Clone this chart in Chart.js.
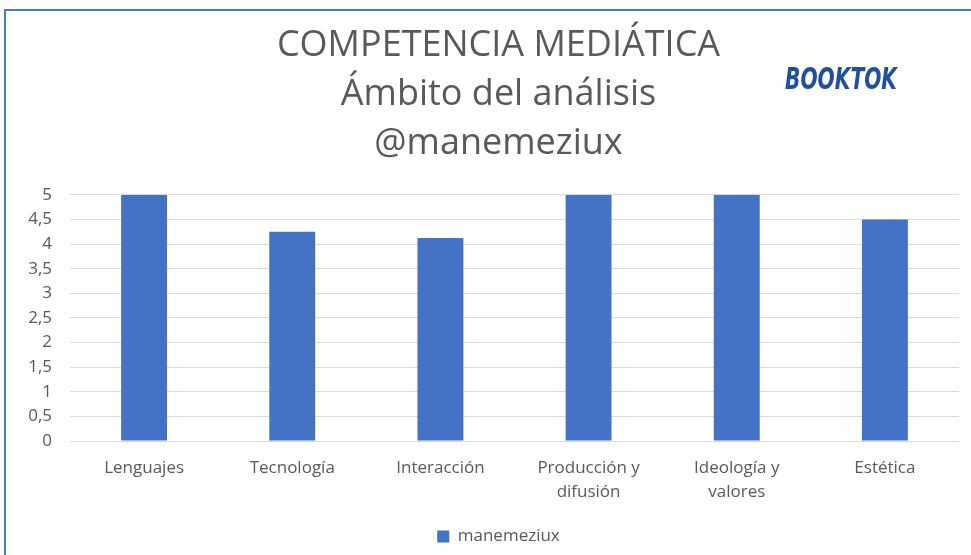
<!DOCTYPE html>
<html><head><meta charset="utf-8">
<script src="https://cdn.jsdelivr.net/npm/chart.js@4/dist/chart.umd.min.js"></script>
<style>html,body{margin:0;padding:0;background:#fff;}#wrap{width:971px;height:555px;position:relative;}</style>
</head><body><div id="wrap"><canvas id="c" width="971" height="555"></canvas></div>
<script>
const categories = [['Lenguajes'], ['Tecnología'], ['Interacción'], ['Producción y', 'difusión'], ['Ideología y', 'valores'], ['Estética']];
const seriesName = 'manemeziux';
const values = [5, 4.25, 4.125, 5, 5, 4.5];
const titleLines = ['COMPETENCIA MEDIÁTICA', 'Ámbito del análisis', '@manemeziux'];
const yMin = 0, yMax = 5, yStep = 0.5;
const logoText = 'BOOKTOK';

const frame = {
  id: 'frame',
  beforeDraw(chart) {
    const ys = chart.scales.y;
    if (ys) ys._computeLabelArea = () => undefined;
    const ctx = chart.ctx;
    ctx.save();
    ctx.fillStyle = '#fff';
    ctx.fillRect(0, 0, chart.width, chart.height);
    ctx.strokeStyle = '#4a7ec2';
    ctx.lineWidth = 2;
    ctx.beginPath();
    ctx.moveTo(5, chart.height + 5);
    ctx.lineTo(5, 10);
    ctx.lineTo(chart.width + 5, 10);
    ctx.stroke();
    ctx.restore();
  },
  afterDraw(chart) {
    const ctx = chart.ctx;
    ctx.save();
    ctx.font = 'italic bold 30px "Liberation Sans Narrow", "DejaVu Sans Condensed", sans-serif';
    const w = ctx.measureText(logoText).width;
    ctx.translate(785, 89);
    ctx.scale(112 / w, 1);
    ctx.fillStyle = '#1f4f9f';
    ctx.textBaseline = 'alphabetic';
    ctx.fillText(logoText, 0, 0);
    ctx.restore();
  }
};

new Chart(document.getElementById('c'), {
  type: 'bar',
  data: {
    labels: categories,
    datasets: [{
      label: seriesName,
      data: values,
      backgroundColor: '#4472c4',
      borderWidth: 0,
      barPercentage: 0.31,
      categoryPercentage: 1
    }]
  },
  options: {
    responsive: false,
    animation: false,
    devicePixelRatio: 1,
    layout: { padding: { left: 38, right: 12, top: 0, bottom: 0 } },
    plugins: {
      title: {
        display: true,
        text: titleLines,
        color: '#595959',
        font: { family: 'Open Sans', size: 36, weight: 'normal', lineHeight: 1.36 },
        padding: { top: 21.5, bottom: 26.5 }
      },
      legend: {
        display: true,
        position: 'bottom',
        labels: {
          boxWidth: 12, boxHeight: 12, color: '#595959',
          font: { family: 'Open Sans', size: 17 },
          padding: 4
        }
      },
      tooltip: { enabled: false }
    },
    scales: {
      x: {
        afterFit(s) { s.height = 83; },
        grid: { display: false, drawTicks: false },
        border: { display: false },
        ticks: { color: '#595959', font: { family: 'Open Sans', size: 17, lineHeight: 1.41 }, padding: 15, maxRotation: 0, autoSkip: false }
      },
      y: {
        min: yMin, max: yMax,
        afterFit(s) { s.width = 32; },
        grid: { color: '#d9d9d9', lineWidth: 1, drawTicks: false },
        border: { display: false },
        ticks: {
          stepSize: yStep, color: '#595959', padding: 18,
          font: { family: 'Open Sans', size: 17 },
          callback: v => String(v).replace('.', ',')
        }
      }
    }
  },
  plugins: [frame]
});
</script></body></html>
